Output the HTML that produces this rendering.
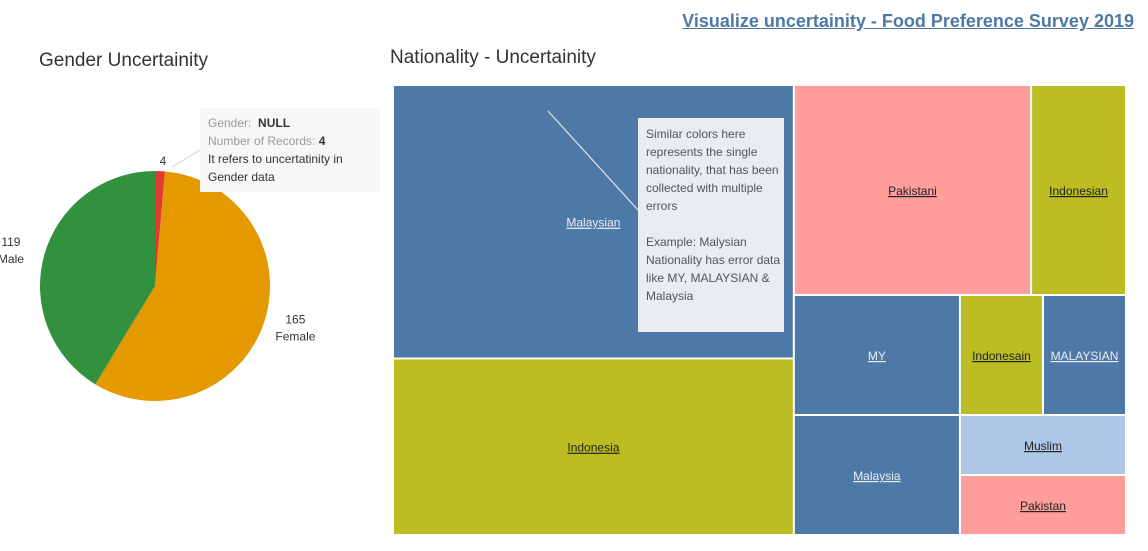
<!DOCTYPE html>
<html><head><meta charset="utf-8">
<style>
body{margin:0;width:1148px;height:551px;background:#fff;font-family:"Liberation Sans",sans-serif;overflow:hidden;position:relative}
.abs{position:absolute}
.tt{font-size:12px;color:#555;line-height:18px}
</style></head><body>
<div class="abs" style="right:14px;top:11px;font-size:18px;font-weight:bold;color:#4e79a7;text-decoration:underline">Visualize uncertainity - Food Preference Survey 2019</div>
<div class="abs" style="left:39px;top:50px;font-size:19px;color:#333">Gender Uncertainity</div>
<div class="abs" style="left:390px;top:47px;font-size:19px;color:#333">Nationality - Uncertainity</div>
<svg class="abs" style="left:0;top:0" width="1148" height="551" id="svg"></svg>
<div class="abs tt" style="left:200px;top:108px;width:172px;height:78px;padding:6px 0 0 8px;background:#f7f7f7"><span style="color:#999">Gender:</span>&nbsp; <b style="color:#333">NULL</b><br><span style="color:#999">Number of Records:</span> <b style="color:#333">4</b><br><span style="color:#333">It refers to uncertatinity in Gender data</span></div>
<div class="abs tt" style="left:638px;top:118px;width:138px;height:207px;padding:7px 0 0 8px;background:#e9ecf0">Similar colors here represents the single nationality, that has been collected with multiple errors<br><br>Example: Malysian Nationality has error data like MY, MALAYSIAN &amp; Malaysia</div>
<script>
const genderLabels=["NULL","Female","Male"];
const genderValues=[4,165,119];
const genderColors=["#e03a33","#e49900","#31913f"];
const natLabels=["Malaysian","Indonesia","Pakistani","Indonesian","MY","Indonesain","MALAYSIAN","Malaysia","Muslim","Pakistan"];
const natValues=[110,71,50,20,20,10,10,20,10,10];
const natColors=["#4e79a7","#bcbd22","#ff9d9a","#bcbd22","#4e79a7","#bcbd22","#4e79a7","#4e79a7","#aec7e8","#ff9d9a"];
const natText=["#e8eef6","#222","#222","#222","#e8eef6","#222","#e8eef6","#e8eef6","#222","#222"];
const NS="http://www.w3.org/2000/svg";
const svg=document.getElementById("svg");
function mk(t,a){const e=document.createElementNS(NS,t);for(const k in a)e.setAttribute(k,a[k]);svg.appendChild(e);return e;}
// pie
const cx=155,cy=286,r=115;
const tot=genderValues.reduce((a,b)=>a+b,0);
let ang=0;
genderValues.forEach((v,i)=>{
  const a0=ang,a1=ang+v/tot*2*Math.PI;ang=a1;
  const x0=cx+r*Math.sin(a0),y0=cy-r*Math.cos(a0),x1=cx+r*Math.sin(a1),y1=cy-r*Math.cos(a1);
  const p=mk("path",{d:`M${cx},${cy}L${x0},${y0}A${r},${r} 0 ${a1-a0>Math.PI?1:0} 1 ${x1},${y1}Z`,fill:genderColors[i]});
  
  
  const mid=(a0+a1)/2;
  const lx=cx+(r+18)*Math.sin(mid),ly=cy-(r+18)*Math.cos(mid);
  if(i===0){
    const t=mk("text",{x:cx+8,y:165,"font-size":12,fill:"#333","text-anchor":"middle"});t.textContent=v;
    
    
    mk("line",{x1:172,y1:167,x2:200,y2:150,stroke:"#ccc","stroke-width":1});
  } else {
    const t=mk("text",{x:lx+(i===1?14:-16),y:ly-4,"font-size":12,fill:"#333","text-anchor":"middle"});
    
    
    const s1=document.createElementNS(NS,"tspan");s1.setAttribute("x",lx+(i===1?14:-16));s1.textContent=v;t.appendChild(s1);
    const s2=document.createElementNS(NS,"tspan");s2.setAttribute("x",lx+(i===1?14:-16));s2.setAttribute("dy",17);s2.textContent=genderLabels[i];t.appendChild(s2);
  }
});
// treemap
const X0=393,Y0=85,W=733,H=450,g=2;
const sum=a=>a.reduce((s,i)=>s+natValues[i],0);
const all=natValues.map((_,i)=>i);
const rects=[];
const lw=W*sum([0,1])/sum(all);
const lh=H*natValues[0]/sum([0,1]);
rects[0]=[X0,Y0,lw,lh];rects[1]=[X0,Y0+lh,lw,H-lh];
const rx=X0+lw,rw=W-lw;
const rows=[[2,3],[4,5,6],[7,8,9]];
const rtot=sum([2,3,4,5,6,7,8,9]);
let yy=Y0;
rows.forEach((row,ri)=>{
  const h=H*sum(row)/rtot;
  if(ri<2){let xx=rx;row.forEach(i=>{const w=rw*natValues[i]/sum(row);rects[i]=[xx,yy,w,h];xx+=w;});}
  else{
    const w7=rw*natValues[7]/sum(row);rects[7]=[rx,yy,w7,h];
    const h8=h*natValues[8]/sum([8,9]);
    rects[8]=[rx+w7,yy,rw-w7,h8];rects[9]=[rx+w7,yy+h8,rw-w7,h-h8];
  }
  yy+=h;
});
rects.forEach((rc,i)=>{
  const [x,y,w,h]=rc;
  const e=mk("rect",{x:x+1,y:y+1,width:w-g,height:h-g,fill:natColors[i]});
  
  
  const t=mk("text",{x:x+w/2,y:y+h/2+5,"font-size":12,fill:natText[i],"text-anchor":"middle","text-decoration":"underline"});
  t.textContent=natLabels[i];
  
  
});
mk("line",{x1:548,y1:111,x2:638,y2:210,stroke:"#dde4ee","stroke-width":1.2});
</script>
</body></html>
